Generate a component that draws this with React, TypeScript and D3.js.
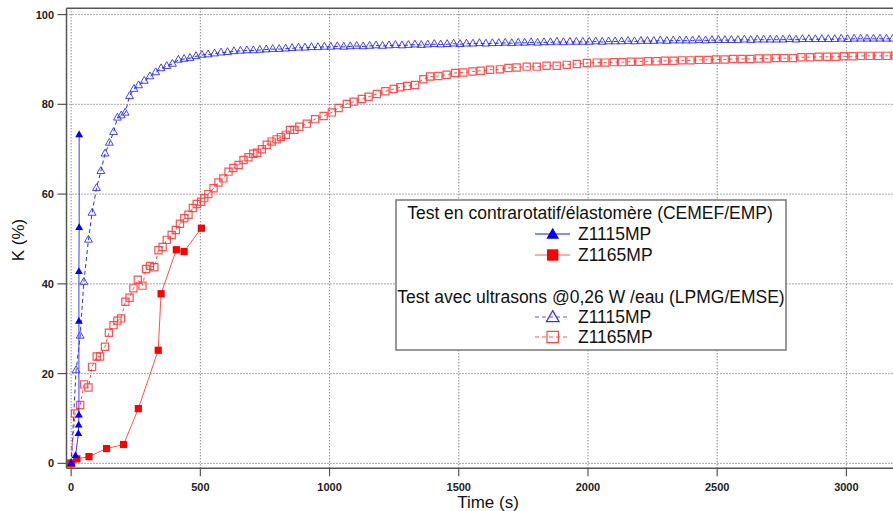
import React from "react";
import * as d3 from "d3";

type P = [number, number];

const xTicks = [0, 500, 1000, 1500, 2000, 2500, 3000];
const yTicks = [0, 20, 40, 60, 80, 100];

const legendTitle1 = "Test en contrarotatif/élastomère (CEMEF/EMP)";
const legendTitle2 = "Test avec ultrasons @0,26 W /eau (LPMG/EMSE)";
const seriesNames = ["Z1115MP", "Z1165MP"];

// CEMEF/EMP (solid, filled markers)
const cemefZ1115: P[] = [
  [0, 0], [17, 1.7], [28, 6.6], [29, 8.5], [30, 10.7], [30, 31.6], [30, 42.7], [31, 52.5], [31, 73.2],
];
const cemefZ1165: P[] = [
  [0, 0], [22, 1.0], [69, 1.5], [137, 3.3], [203, 4.2], [260, 12.2], [337, 25.2], [348, 37.8],
  [407, 47.6], [437, 47.2], [504, 52.4],
];

// LPMG/EMSE ultrasons (dashed, open markers)
const ultraZ1115: P[] = [
  [0, 0], [19, 20.7], [35, 28.4], [49, 40.4], [67, 49.8], [81, 55.8], [98, 61.3], [115, 65.1],
  [131, 69.0], [148, 71.4], [164, 73.8], [179, 77.0], [194, 77.5], [209, 78.1], [226, 81.8],
  [243, 83.4], [261, 84.2], [283, 85.2], [305, 86.2], [327, 87.1], [348, 88.0], [370, 88.5],
  [392, 89.0], [415, 89.9], [437, 90.1], [460, 90.3], [483, 90.7], [506, 91.0], [530, 91.1],
  [555, 91.3], [580, 91.5], [605, 91.6], [630, 91.8], [655, 91.9], [680, 92.0], [705, 92.0],
  [730, 92.1], [755, 92.2], [780, 92.3], [805, 92.3], [830, 92.4], [855, 92.5], [880, 92.6],
  [905, 92.6], [930, 92.7], [955, 92.7], [980, 92.8], [1005, 92.8], [1030, 92.9], [1055, 92.8],
  [1080, 92.9], [1105, 93.0], [1130, 92.9], [1155, 93.0], [1180, 93.1], [1205, 93.0], [1230, 93.1],
  [1255, 93.2], [1280, 93.1], [1305, 93.2], [1330, 93.3], [1355, 93.2], [1380, 93.3], [1405, 93.4],
  [1430, 93.3], [1455, 93.4], [1480, 93.5], [1505, 93.4], [1530, 93.5], [1555, 93.5], [1580, 93.6],
  [1605, 93.5], [1630, 93.6], [1655, 93.6], [1680, 93.7], [1705, 93.6], [1730, 93.7], [1755, 93.7],
  [1780, 93.8], [1805, 93.7], [1830, 93.8], [1855, 93.8], [1880, 93.9], [1905, 93.8], [1930, 93.9],
  [1955, 93.9], [1980, 93.9], [2005, 93.9], [2030, 94.0], [2055, 93.9], [2080, 94.0], [2105, 94.0],
  [2130, 94.0], [2155, 94.1], [2180, 94.0], [2205, 94.1], [2230, 94.1], [2255, 94.1], [2280, 94.2],
  [2305, 94.1], [2330, 94.2], [2355, 94.2], [2380, 94.2], [2405, 94.2], [2430, 94.3], [2455, 94.2],
  [2480, 94.3], [2505, 94.3], [2530, 94.3], [2555, 94.3], [2580, 94.3], [2605, 94.4], [2630, 94.3],
  [2655, 94.4], [2680, 94.4], [2705, 94.4], [2730, 94.4], [2755, 94.4], [2780, 94.5], [2805, 94.4],
  [2830, 94.5], [2855, 94.5], [2880, 94.5], [2905, 94.5], [2930, 94.5], [2955, 94.5], [2980, 94.6],
  [3005, 94.5], [3030, 94.6], [3055, 94.6], [3080, 94.6], [3105, 94.6], [3130, 94.6], [3155, 94.6],
  [3180, 94.6],
];
const ultraZ1165: P[] = [
  [0, 0], [15, 11.1], [35, 13.0], [50, 17.6], [67, 16.9], [81, 21.5], [99, 23.8], [112, 23.8],
  [131, 26.0], [146, 29.1], [164, 30.8], [179, 31.8], [193, 32.3], [210, 36.0], [226, 36.9],
  [241, 39.0], [258, 40.9], [276, 39.6], [290, 43.3], [305, 44.0], [322, 43.7], [338, 47.5],
  [354, 48.2], [370, 49.8], [389, 50.9], [405, 52.0], [421, 53.4], [438, 54.6], [454, 55.4],
  [471, 56.9], [486, 57.8], [503, 58.3], [515, 59.1], [531, 60.0], [551, 61.3], [570, 62.6],
  [589, 63.5], [609, 65.0], [628, 65.8], [648, 66.5], [667, 67.6], [686, 68.2], [705, 69.0],
  [720, 69.2], [738, 70.0], [757, 71.0], [776, 71.7], [795, 72.2], [812, 72.7], [831, 73.2],
  [847, 74.3], [864, 74.3], [883, 75.0], [912, 75.7], [944, 76.7], [977, 77.4], [1009, 78.2],
  [1035, 79.2], [1067, 80.1], [1093, 80.6], [1125, 81.2], [1151, 81.7], [1183, 82.3], [1216, 82.9],
  [1248, 83.4], [1274, 83.8], [1300, 84.1], [1331, 84.3], [1363, 85.6], [1389, 86.2], [1421, 86.3],
  [1453, 86.6], [1486, 87.0], [1518, 87.1], [1553, 87.3], [1585, 87.5], [1621, 87.7], [1659, 87.8],
  [1692, 88.1], [1724, 88.2], [1763, 88.4], [1802, 88.4], [1840, 88.6], [1879, 88.6], [1918, 88.8],
  [1957, 89.0], [1996, 89.2], [2034, 89.3], [2067, 89.3], [2100, 89.4], [2133, 89.4], [2166, 89.5],
  [2199, 89.5], [2232, 89.6], [2265, 89.6], [2298, 89.7], [2331, 89.7], [2364, 89.8], [2397, 89.8],
  [2430, 89.9], [2463, 89.9], [2496, 90.0], [2529, 90.0], [2562, 90.1], [2595, 90.1], [2628, 90.1],
  [2661, 90.2], [2694, 90.2], [2727, 90.3], [2760, 90.3], [2793, 90.3], [2826, 90.5], [2859, 90.5],
  [2892, 90.6], [2925, 90.6], [2958, 90.6], [2991, 90.7], [3024, 90.7], [3057, 90.8], [3090, 90.8],
  [3123, 90.8], [3156, 90.8], [3189, 90.9],
];

const BLUE = "#0000ff";
const RED = "#ff0000";
const FONT = "'Liberation Sans', Arial, sans-serif";

export default function App() {
  const W = 893;
  const H = 511;
  const left = 66.5, top = 8.3, bottom = 468.3, right = 893.4;
  const x = d3.scaleLinear().domain([-18, 3182]).range([left, right]);
  const y = d3.scaleLinear().domain([-1.1, 101.4]).range([bottom, top]);
  const line = d3.line<P>().x((d) => x(d[0])).y((d) => y(d[1]));

  const triSmall = d3.symbol(d3.symbolTriangle, 27)() as string;
  const sqSmall = d3.symbol(d3.symbolSquare, 52)() as string;
  const triBig = d3.symbol(d3.symbolTriangle, 70)() as string;
  const sqBig = d3.symbol(d3.symbolSquare, 130)() as string;

  const lgX = 396, lgY = 200, lgW = 390, lgH = 150;
  const lgCx = lgX + lgW / 2;
  const symX = 552.7;
  const rows = [213, 234, 255, 297, 317, 337];

  return (
    <svg width={W} height={H} style={{ position: "absolute", left: 0, top: 0, background: "#fff" }}
      fontFamily={FONT}>
      <rect x={0} y={0} width={W} height={H} fill="#fff" />
      {/* grid */}
      <g stroke="#555" strokeWidth={1} strokeDasharray="1,2">
        {xTicks.map((t) => (
          <line key={"gx" + t} x1={x(t)} x2={x(t)} y1={top} y2={bottom} />
        ))}
        {yTicks.map((t) => (
          <line key={"gy" + t} x1={left} x2={W} y1={y(t)} y2={y(t)} />
        ))}
      </g>

      {/* ultrasons series */}
      <path d={line(ultraZ1165) as string} fill="none" stroke="#ff4a4a" strokeWidth={1} strokeDasharray="3,3" />
      <g fill="none" stroke="#ff3333" strokeWidth={1.2} strokeOpacity={0.85}>
        {ultraZ1165.map((d, i) => (
          <path key={"ur" + i} d={sqSmall} transform={`translate(${x(d[0])},${y(d[1])})`} />
        ))}
      </g>
      <path d={line(ultraZ1115) as string} fill="none" stroke="#2a2aff" strokeWidth={1} strokeDasharray="4,3" />
      <g fill="none" stroke="#3030ff" strokeWidth={1} strokeOpacity={0.9}>
        {ultraZ1115.map((d, i) => (
          <path key={"ub" + i} d={triSmall} transform={`translate(${x(d[0])},${y(d[1])})`} />
        ))}
      </g>

      {/* CEMEF series */}
      <path d={line(cemefZ1165) as string} fill="none" stroke="#ff5050" strokeWidth={1} />
      <g fill={RED}>
        {cemefZ1165.map((d, i) => (
          <path key={"cr" + i} d={sqSmall} transform={`translate(${x(d[0])},${y(d[1])})`} />
        ))}
      </g>
      <path d={line(cemefZ1115) as string} fill="none" stroke="#3c3cff" strokeWidth={1} />
      <g fill={BLUE}>
        {cemefZ1115.map((d, i) => (
          <path key={"cb" + i} d={triSmall} transform={`translate(${x(d[0])},${y(d[1])})`} />
        ))}
      </g>

      {/* frame */}
      <g stroke="#555" strokeWidth={1.5}>
        <line x1={left} x2={W} y1={top} y2={top} />
        <line x1={left} x2={left} y1={top} y2={bottom} />
        <line x1={left} x2={W} y1={bottom} y2={bottom} />
      </g>
      {/* ticks */}
      <g stroke="#555" strokeWidth={1.2}>
        {xTicks.map((t) => (
          <line key={"tx" + t} x1={x(t)} x2={x(t)} y1={bottom} y2={bottom + 8} />
        ))}
        {yTicks.map((t) => (
          <line key={"ty" + t} x1={left - 9} x2={left} y1={y(t)} y2={y(t)} />
        ))}
      </g>
      <g fontSize={11} fontWeight="bold" fill="#222">
        {xTicks.map((t) => (
          <text key={"lx" + t} x={x(t)} y={491} textAnchor="middle">{t}</text>
        ))}
        {yTicks.map((t) => (
          <text key={"ly" + t} x={54} y={y(t) + 4} textAnchor="end">{t}</text>
        ))}
      </g>
      <text x={488} y={508} textAnchor="middle" fontSize={17} fill="#111">Time (s)</text>
      <text transform="translate(24,240) rotate(-90)" textAnchor="middle" fontSize={17} fill="#111">K (%)</text>

      {/* legend */}
      <rect x={lgX} y={lgY} width={lgW} height={lgH} fill="#fff" stroke="#777" strokeWidth={1.5} />
      <g fontSize={17.5} fill="#111">
        <text x={lgCx - 1} y={rows[0] + 6} textAnchor="middle">{legendTitle1}</text>
        <text x={lgCx} y={rows[3] + 6} textAnchor="middle">{legendTitle2}</text>
        {[1, 2, 4, 5].map((r, i) => (
          <text key={"ln" + r} x={578} y={rows[r] + 6}>{seriesNames[i % 2]}</text>
        ))}
      </g>
      <line x1={535} x2={570} y1={rows[1]} y2={rows[1]} stroke="#8a8aff" strokeWidth={2} />
      <path d={triBig} transform={`translate(${symX},${rows[1] + 1})`} fill={BLUE} />
      <line x1={535} x2={570} y1={rows[2]} y2={rows[2]} stroke="#ff9090" strokeWidth={1.5} />
      <path d={sqBig} transform={`translate(${symX},${rows[2]})`} fill={RED} />
      <line x1={535} x2={570} y1={rows[4]} y2={rows[4]} stroke="#5555ff" strokeWidth={1} strokeDasharray="4,3" />
      <path d={triBig} transform={`translate(${symX},${rows[4] + 1})`} fill="none" stroke="#3030ff" strokeWidth={1.2} />
      <line x1={535} x2={570} y1={rows[5]} y2={rows[5]} stroke="#ff5555" strokeWidth={1} strokeDasharray="4,3" />
      <path d={sqBig} transform={`translate(${symX},${rows[5]})`} fill="none" stroke="#ff4444" strokeWidth={1.2} />
    </svg>
  );
}
